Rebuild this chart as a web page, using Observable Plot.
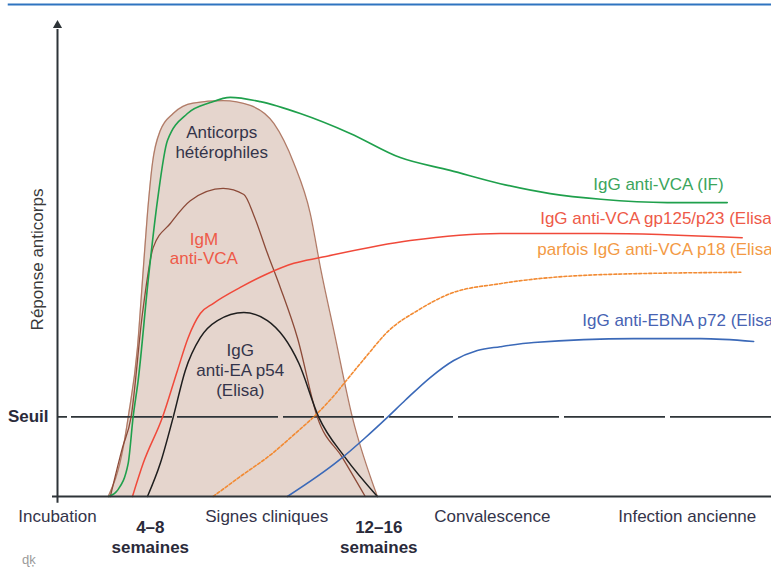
<!DOCTYPE html>
<html><head><meta charset="utf-8">
<script src="https://cdn.jsdelivr.net/npm/d3@7"></script>
<script src="https://cdn.jsdelivr.net/npm/@observablehq/plot@0.6"></script>
<style>body{margin:0;background:#fff;overflow:hidden}</style>
</head><body><div id="chart"></div>
<script>
// Time (arbitrary units) and antibody response (arbitrary units)
const hetX = [7.1, 9.2, 9.9, 11.2, 11.9, 12.6, 13.3, 14.4, 16.2, 19.0, 23.2, 27.0, 30.3, 33.1, 35.4, 36.9, 38.7, 41.3, 44.8];
const hetY = [0, 10.3, 16.7, 31.4, 45.6, 59.7, 70.3, 77.2, 80.8, 83.0, 83.5, 82.5, 78.7, 70.3, 59.7, 47.7, 35.0, 16.7, 0];

const igmX = [7.4, 9.1, 10.3, 11.9, 13.4, 15.8, 18.6, 23.2, 26.1, 27.5, 29.4, 31.2, 33.6, 36.4, 39.9, 43.1];
const igmY = [0, 10.3, 16.7, 38.6, 52.5, 57.6, 62.4, 65.0, 63.7, 59.3, 51.3, 44.1, 33.5, 16.7, 8.2, 0];

const eaX = [12.6, 14.4, 16.2, 17.9, 20.0, 22.4, 26.1, 29.4, 33.8, 36.6, 40.3, 44.8];
const eaY = [0, 7.0, 16.7, 26.6, 33.5, 37.1, 38.8, 37.1, 28.1, 16.7, 8.2, 0];

const vcaX = [7.2, 8.4, 9.9, 10.6, 11.3, 12.7, 14.0, 15.4, 18.2, 21.4, 24.2, 28.4, 34.0, 41.0, 48.0, 55.0, 62.0, 69.0, 76.1, 85.4, 93.8];
const vcaY = [0, 1.3, 7.0, 16.9, 24.5, 45.6, 62.4, 75.1, 80.8, 83.1, 84.2, 83.3, 80.8, 76.6, 71.5, 68.8, 66.0, 63.9, 62.7, 62.0, 62.0];

const gpX = [10.5, 12.0, 14.7, 16.8, 18.3, 20.0, 21.8, 25.6, 29.4, 33.1, 36.8, 49.4, 62.0, 76.1, 95.9];
const gpY = [0, 7.0, 16.7, 26.6, 33.5, 38.6, 40.7, 44.1, 47.0, 49.2, 50.4, 54.0, 55.5, 55.5, 54.6];

const p18X = [21.8, 25.4, 30.1, 33.3, 36.1, 38.5, 40.8, 43.1, 46.4, 50.4, 55.0, 62.0, 76.1, 95.7];
const p18Y = [0, 4.0, 9.1, 13.3, 17.1, 20.9, 25.1, 29.3, 35.0, 39.2, 42.8, 44.9, 46.8, 47.3];

const ebnaX = [32.2, 39.4, 43.1, 46.2, 48.7, 52.2, 55.5, 58.8, 62.0, 66.7, 80.7, 90.1, 97.5];
const ebnaY = [0, 7.6, 12.4, 16.7, 20.3, 25.1, 28.7, 30.8, 31.6, 32.5, 33.3, 33.3, 32.7];

const seuil = 16.8;

const phases = ["Incubation", "Signes cliniques", "Convalescence", "Infection ancienne"];
const phaseX = [0, 29.3, 60.9, 88.2];
const weeks = ["4–8\nsemaines", "12–16\nsemaines"];
const weekX = [13.0, 45.0];

const innerText = ["Anticorps\nhétérophiles", "IgM\nanti-VCA", "IgG\nanti-EA p54\n(Elisa)"];
const innerX = [23.0, 20.5, 25.6];
const innerY = [74.8, 52.4, 26.7];

const endText = ["IgG anti-VCA (IF)"];
const endX = [93.3];
const endY = [65.9];

const startText = ["IgG anti-VCA gp125/p23 (Elisa)", "parfois IgG anti-VCA p18 (Elisa)", "IgG anti-EBNA p72 (Elisa)"];
const startX = [67.6, 67.2, 73.5];
const startY = [58.7, 52.0, 37.2];

// colours
const C = {
  dark: "#34344a", axis: "#2e3438",
  hetFill: "#e5d5cd", hetStroke: "#b17b67", igm: "#8c4a38",
  green: "#1fa04c", greenT: "#3ba55c",
  red: "#f0493a", redT: "#ee5a48",
  orange: "#f28a32", orangeT: "#f39a45",
  blue: "#3b69b8", blueT: "#4763b3",
  black: "#1e1e1e"
};
const innerFill = [C.dark, C.redT, C.dark];
const startFill = [C.redT, C.orangeT, C.blueT];

const pts = (xs, ys) => xs.map((x, i) => ({x, y: ys[i]}));
const curve = "monotone-x";
const idx = a => a.map((_, i) => i);

const chart = Plot.plot({
  width: 771, height: 574,
  marginLeft: 57, marginRight: 0, marginTop: 22, marginBottom: 78,
  x: {domain: [0, 100], axis: null},
  y: {domain: [0, 100], axis: null},
  style: {fontFamily: "'Liberation Sans', Arial, sans-serif", background: "#fff"},
  marks: [
    // top decorative blue rule
    Plot.ruleY([103.8], {x1: -6.9, x2: 100, stroke: "#2f74c0", strokeWidth: 2}),
    // heterophile antibodies (filled)
    Plot.areaY(pts(hetX, hetY), {x: "x", y: "y", fill: C.hetFill, curve}),
    Plot.line(pts(hetX, hetY), {x: "x", y: "y", stroke: C.hetStroke, strokeWidth: 1.3, curve}),
    // threshold
    Plot.ruleY([seuil], {x1: 0, x2: 100, stroke: C.axis, strokeWidth: 1.6,
      strokeDasharray: "10,4,101,5,101,5,101,5,64,5,101,5,101,5,101"}),
    Plot.line(pts(igmX, igmY), {x: "x", y: "y", stroke: C.igm, strokeWidth: 1.3, curve}),
    Plot.line(pts(vcaX, vcaY), {x: "x", y: "y", stroke: C.green, strokeWidth: 1.6, curve}),
    Plot.line(pts(gpX, gpY), {x: "x", y: "y", stroke: C.red, strokeWidth: 1.5, curve}),
    Plot.line(pts(p18X, p18Y), {x: "x", y: "y", stroke: C.orange, strokeWidth: 1.6, strokeDasharray: "3,2", curve}),
    Plot.line(pts(eaX, eaY), {x: "x", y: "y", stroke: C.black, strokeWidth: 1.5, curve}),
    Plot.line(pts(ebnaX, ebnaY), {x: "x", y: "y", stroke: C.blue, strokeWidth: 1.6, curve}),
    // axes
    Plot.ruleY([0], {x1: -0.7, x2: 100, stroke: C.axis, strokeWidth: 2}),
    Plot.ruleX([0], {y1: -1.4, y2: 98.5, stroke: C.axis, strokeWidth: 2}),
    Plot.dot([0], {x: 0, y: 99.4, symbol: "triangle", r: 3.4, fill: C.axis, stroke: null}),
    // axis texts
    Plot.text(["Réponse anticorps"], {x: -2.8, y: 50, rotate: -90, fill: "#3a3a3a", fontSize: 17}),
    Plot.text(["Seuil"], {x: -1.26, y: seuil, textAnchor: "end", fontWeight: "bold", fill: "#2a2a3a", fontSize: 17}),
    Plot.text(idx(phases), {x: i => phaseX[i], text: i => phases[i], frameAnchor: "bottom", dy: 25.6, fill: C.dark, fontSize: 17}),
    Plot.text(idx(weeks), {x: i => weekX[i], text: i => weeks[i], frameAnchor: "bottom", dy: 56.5, fontWeight: "bold", lineHeight: 1.17, fill: "#2a2a3a", fontSize: 17}),
    Plot.text(["ɖķ"], {x: -4.0, frameAnchor: "bottom", dy: 67, fill: "#9a9a9a", fontSize: 13}),
    // curve labels
    Plot.text(idx(innerText), {x: i => innerX[i], y: i => innerY[i], text: i => innerText[i], fill: i => innerFill[i], lineHeight: 1.17, fontSize: 17}),
    Plot.text(idx(endText), {x: i => endX[i], y: i => endY[i], text: i => endText[i], fill: C.greenT, textAnchor: "end", fontSize: 17}),
    Plot.text(idx(startText), {x: i => startX[i], y: i => startY[i], text: i => startText[i], fill: i => startFill[i], textAnchor: "start", fontSize: 17})
  ]
});
document.getElementById("chart").append(chart);
</script>
</body></html>
